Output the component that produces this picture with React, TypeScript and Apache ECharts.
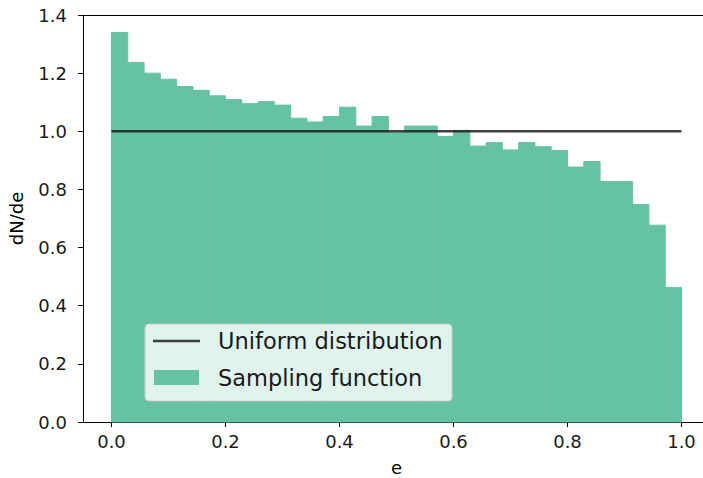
import React, { useEffect, useRef } from "react";
import * as echarts from "echarts";

// Histogram of the sampling function: 35 equal bins on [0, 1]
const binCount = 35;
const samplingHeights = [
  1.34, 1.237, 1.2, 1.179, 1.154, 1.141, 1.122, 1.109, 1.095, 1.102, 1.09, 1.045,
  1.032, 1.051, 1.083, 1.018, 1.051, 0.995, 1.018, 1.018, 0.982, 1.003, 0.949,
  0.961, 0.936, 0.961, 0.947, 0.934, 0.877, 0.896, 0.827, 0.827, 0.748, 0.677,
  0.463,
];
// Uniform distribution line
const uniformX = [0, 1];
const uniformY = [1, 1];
const xTicks = [0, 0.2, 0.4, 0.6, 0.8, 1.0];
const seriesNames = ["Uniform distribution", "Sampling function"];
const axisNames = { x: "e", y: "dN/de" };

const FONT = "DejaVu Sans";
const BAR_COLOR = "#66c2a5";

export default function App() {
  const ref = useRef<HTMLDivElement>(null);
  useEffect(() => {
    if (!ref.current) return;
    const chart = echarts.init(ref.current, undefined, { renderer: "svg" });
    const histData = samplingHeights.map((h, i) => [i / binCount, (i + 1) / binCount, h]);
    const lineData = uniformX.map((x, i) => [x, uniformY[i]]);
    const spine = { show: true, lineStyle: { color: "#000", width: 1 } };
    chart.setOption({
      animation: false,
      backgroundColor: "#ffffff",
      grid: {
        left: 83,
        top: 15,
        right: 50,
        bottom: 56,
        containLabel: false,
        outerBoundsMode: "none",
        show: false,
      },
      xAxis: [
        {
          type: "value",
          min: -0.05,
          max: 1.05,
          name: axisNames.x,
          nameLocation: "middle",
          nameGap: 36,
          nameTextStyle: { fontFamily: FONT, fontSize: 18, color: "#000" },
          splitLine: { show: false },
          axisLine: { ...spine, onZero: false },
          axisTick: {
            show: true,
            customValues: xTicks,
            length: 5,
            lineStyle: { color: "#000", width: 1 },
          },
          axisLabel: {
            customValues: xTicks,
            margin: 10,
            fontFamily: FONT,
            fontSize: 18,
            color: "#1a1a1a",
            formatter: (v: number) => v.toFixed(1),
          },
        },
        {
          type: "value",
          position: "top",
          min: -0.05,
          max: 1.05,
          splitLine: { show: false },
          axisLine: { ...spine, onZero: false },
          axisTick: { show: false },
          axisLabel: { show: false },
        },
      ],
      yAxis: {
        type: "value",
        min: 0,
        max: 1.4,
        interval: 0.2,
        name: axisNames.y,
        nameLocation: "middle",
        nameGap: 58,
        nameTextStyle: { fontFamily: FONT, fontSize: 18, color: "#000" },
        splitLine: { show: false },
        axisLine: { ...spine, onZero: false },
        axisTick: { show: true, length: 5, lineStyle: { color: "#000", width: 1 } },
        axisLabel: {
          margin: 16,
          fontFamily: FONT,
          fontSize: 18,
          color: "#1a1a1a",
          formatter: (v: number) => v.toFixed(1),
        },
      },
      series: [
        {
          name: seriesNames[1],
          type: "custom",
          z: 1,
          data: histData,
          encode: { x: [0, 1], y: 2 },
          renderItem: (params: any, api: any) => {
            const p0 = api.coord([api.value(0), api.value(2)]);
            const p1 = api.coord([api.value(1), 0]);
            return {
              type: "rect",
              shape: { x: p0[0], y: p0[1], width: p1[0] - p0[0], height: p1[1] - p0[1] },
              style: { fill: BAR_COLOR, stroke: BAR_COLOR, lineWidth: 1 },
            };
          },
        },
        {
          name: seriesNames[0],
          type: "line",
          z: 3,
          data: lineData,
          symbol: "none",
          lineStyle: { color: "#1f1f1f", width: 2.6, opacity: 0.85 },
        },
      ],
      graphic: [
        {
          type: "rect",
          z: 100,
          zlevel: 1,
          shape: { x: 145, y: 324, width: 307, height: 77, r: 4 },
          style: { fill: "rgba(255,255,255,0.8)", stroke: "#cccccc", lineWidth: 1 },
        },
        {
          type: "line",
          z: 101,
          zlevel: 1,
          shape: { x1: 153, y1: 341, x2: 200, y2: 341 },
          style: { stroke: "#1f1f1f", lineWidth: 2.6, opacity: 0.85 },
        },
        {
          type: "text",
          z: 101,
          zlevel: 1,
          x: 218,
          y: 341,
          style: {
            text: seriesNames[0],
            fontFamily: FONT,
            fontSize: 22.5,
            fill: "#1a1a1a",
            verticalAlign: "middle",
            align: "left",
          },
        },
        {
          type: "rect",
          z: 101,
          zlevel: 1,
          shape: { x: 154, y: 370, width: 45, height: 15 },
          style: { fill: BAR_COLOR },
        },
        {
          type: "text",
          z: 101,
          zlevel: 1,
          x: 218,
          y: 378,
          style: {
            text: seriesNames[1],
            fontFamily: FONT,
            fontSize: 22.5,
            fill: "#1a1a1a",
            verticalAlign: "middle",
            align: "left",
          },
        },
      ],
    });
    return () => chart.dispose();
  }, []);
  return (
    <div
      style={{
        position: "fixed",
        left: 0,
        top: 0,
        width: 703,
        height: 478,
        overflow: "hidden",
        background: "#fff",
      }}
    >
      <div ref={ref} style={{ width: 760, height: 478 }} />
    </div>
  );
}
